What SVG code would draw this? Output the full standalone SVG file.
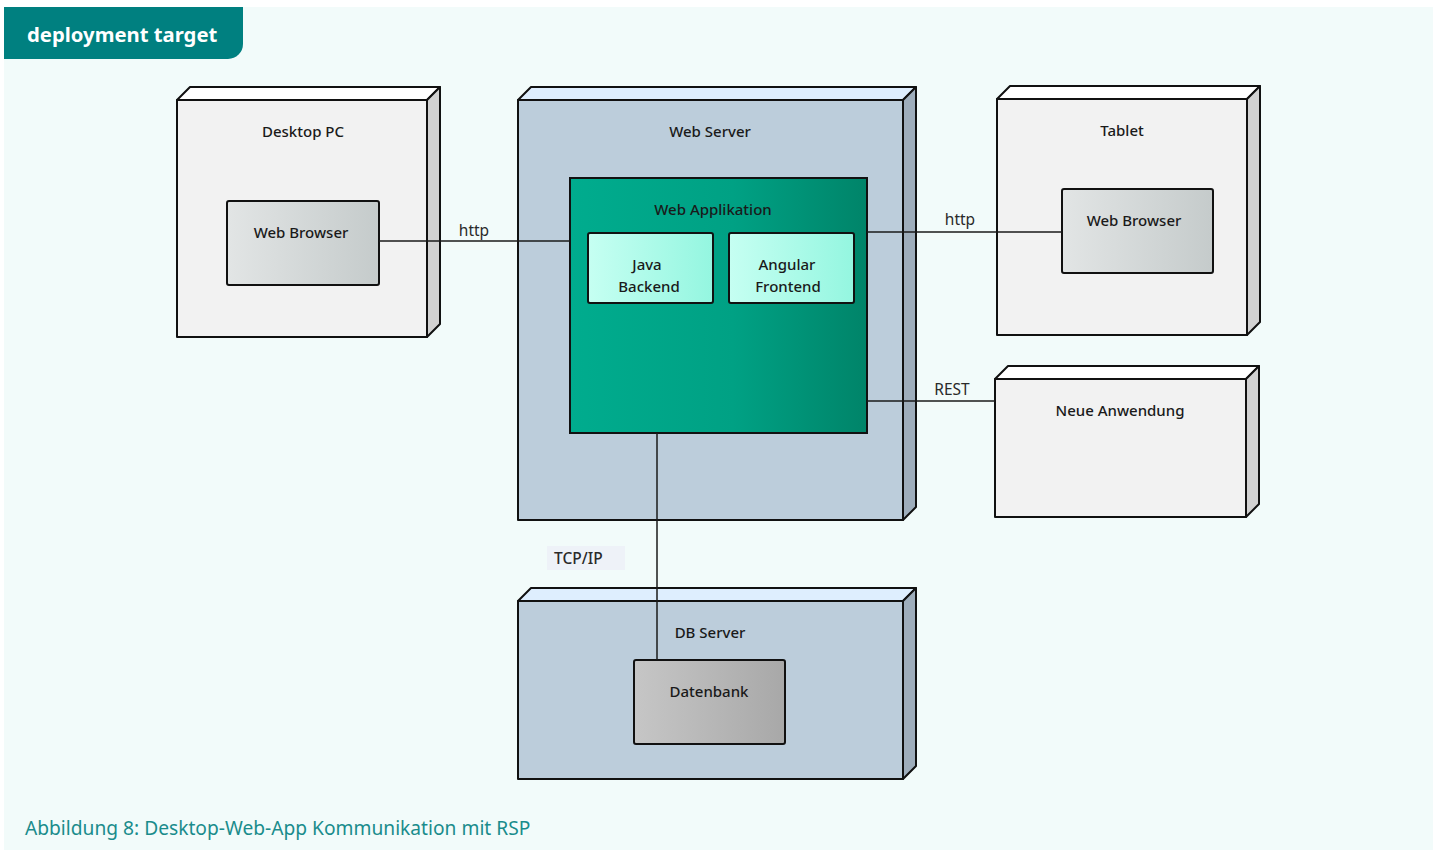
<svg xmlns="http://www.w3.org/2000/svg" width="1437" height="850" viewBox="0 0 1437 850">
  <style>
    .lbl { font-family: "Noto Sans", "Open Sans", sans-serif; font-size: 15px; font-weight: 500; fill: #1a1a1a; text-anchor: middle; }
    .edge { font-family: "Noto Sans", "Open Sans", sans-serif; font-size: 15.5px; fill: #2a2a2a; text-anchor: middle; }
    .edge.start { text-anchor: start; font-weight: 500; }
    .face { stroke: #111; stroke-width: 2; stroke-linejoin: round; }
    .front-gray { fill: #f2f2f2; }
    .top-gray { fill: #ffffff; }
    .side-gray { fill: #d2d2d2; }
    .front-blue { fill: #bccddb; }
    .top-blue { fill: #deeefe; }
    .side-blue { fill: #9eadbb; }
    .inner { stroke: #111; stroke-width: 2; }
    .wire { stroke: #1a1a1a; stroke-width: 1.5; fill: none; }
  </style>
  <defs>
    <linearGradient id="gBrowser" x1="0" y1="0" x2="1" y2="0">
      <stop offset="0" stop-color="#e2e5e5"/>
      <stop offset="1" stop-color="#c5cbcb"/>
    </linearGradient>
    <linearGradient id="gApp" x1="0" y1="0" x2="1" y2="0">
      <stop offset="0" stop-color="#00ac8e"/>
      <stop offset="0.55" stop-color="#00a184"/>
      <stop offset="1" stop-color="#008469"/>
    </linearGradient>
    <linearGradient id="gComp" x1="0" y1="0" x2="1" y2="0">
      <stop offset="0" stop-color="#c6fff2"/>
      <stop offset="1" stop-color="#94f6e0"/>
    </linearGradient>
    <linearGradient id="gDb" x1="0" y1="0" x2="1" y2="0">
      <stop offset="0" stop-color="#c6c6c6"/>
      <stop offset="1" stop-color="#a8a8a8"/>
    </linearGradient>
  </defs>

  <!-- page and panel -->
  <rect x="0" y="0" width="1437" height="850" fill="#ffffff"/>
  <rect x="4" y="7" width="1429" height="843" fill="#f2fbfa"/>

  <!-- title tab -->
  <g id="title">
    <path d="M4 7 H243 V44 A15 15 0 0 1 228 59 H4 Z" fill="#008080"/>
    <text x="27" y="42" font-family="Noto Sans, Open Sans, sans-serif" font-size="20.3" font-weight="700" fill="#ffffff">deployment target</text>
  </g>

  <!-- Desktop PC -->
  <g id="desktop-pc">
    <polygon class="face top-gray" points="177,100 190,87 440,87 427,100"/>
    <polygon class="face side-gray" points="427,100 440,87 440,324 427,337"/>
    <rect class="face front-gray" x="177" y="100" width="250" height="237"/>
    <text class="lbl" x="303" y="137">Desktop PC</text>
  </g>
  <g id="desktop-browser">
    <rect class="inner" x="227" y="201" width="152" height="84" rx="2" fill="url(#gBrowser)"/>
    <text class="lbl" x="301" y="238">Web Browser</text>
  </g>

  <!-- Web Server -->
  <g id="web-server">
    <polygon class="face top-blue" points="518,100 531,87 916,87 903,100"/>
    <polygon class="face side-blue" points="903,100 916,87 916,507 903,520"/>
    <rect class="face front-blue" x="518" y="100" width="385" height="420"/>
    <text class="lbl" x="710" y="137">Web Server</text>
  </g>
  <g id="web-app">
    <rect class="inner" x="570" y="178" width="297" height="255" fill="url(#gApp)"/>
    <text class="lbl" x="713" y="215">Web Applikation</text>
  </g>
  <g id="java-backend">
    <rect class="inner" x="588" y="233" width="125" height="70" rx="2" fill="url(#gComp)"/>
    <text class="lbl" x="647" y="270">Java</text>
    <text class="lbl" x="649" y="292">Backend</text>
  </g>
  <g id="angular-frontend">
    <rect class="inner" x="729" y="233" width="125" height="70" rx="2" fill="url(#gComp)"/>
    <text class="lbl" x="787" y="270">Angular</text>
    <text class="lbl" x="788" y="292">Frontend</text>
  </g>

  <!-- Tablet -->
  <g id="tablet">
    <polygon class="face top-gray" points="997,99 1010,86 1260,86 1247,99"/>
    <polygon class="face side-gray" points="1247,99 1260,86 1260,322 1247,335"/>
    <rect class="face front-gray" x="997" y="99" width="250" height="236"/>
    <text class="lbl" x="1122" y="136">Tablet</text>
  </g>
  <g id="tablet-browser">
    <rect class="inner" x="1062" y="189" width="151" height="84" rx="2" fill="url(#gBrowser)"/>
    <text class="lbl" x="1134" y="226">Web Browser</text>
  </g>

  <!-- Neue Anwendung -->
  <g id="neue-anwendung">
    <polygon class="face top-gray" points="995,379 1008,366 1259,366 1246,379"/>
    <polygon class="face side-gray" points="1246,379 1259,366 1259,504 1246,517"/>
    <rect class="face front-gray" x="995" y="379" width="251" height="138"/>
    <text class="lbl" x="1120" y="416">Neue Anwendung</text>
  </g>

  <!-- DB Server -->
  <g id="db-server">
    <polygon class="face top-blue" points="518,601 531,588 916,588 903,601"/>
    <polygon class="face side-blue" points="903,601 916,588 916,766 903,779"/>
    <rect class="face front-blue" x="518" y="601" width="385" height="178"/>
    <text class="lbl" x="710" y="638">DB Server</text>
  </g>
  <g id="datenbank">
    <rect class="inner" x="634" y="660" width="151" height="84" rx="2" fill="url(#gDb)"/>
    <text class="lbl" x="709" y="697">Datenbank</text>
  </g>

  <!-- connectors -->
  <g id="connectors">
    <line class="wire" x1="379" y1="241" x2="570" y2="241"/>
    <text class="edge" x="474" y="236">http</text>

    <line class="wire" x1="867" y1="232" x2="1062" y2="232"/>
    <text class="edge" x="960" y="225">http</text>

    <line class="wire" x1="867" y1="401" x2="995" y2="401"/>
    <text class="edge" x="952" y="395">REST</text>

    <line class="wire" x1="657" y1="433" x2="657" y2="660"/>
    <rect x="547" y="546" width="78" height="24" fill="#eef2f8"/>
    <text class="edge start" x="554" y="564">TCP/IP</text>
  </g>

  <!-- caption -->
  <text x="25" y="835" font-family="Noto Sans, Open Sans, sans-serif" font-size="19.2" fill="#1a8c8c">Abbildung 8: Desktop-Web-App Kommunikation mit RSP</text>
</svg>
